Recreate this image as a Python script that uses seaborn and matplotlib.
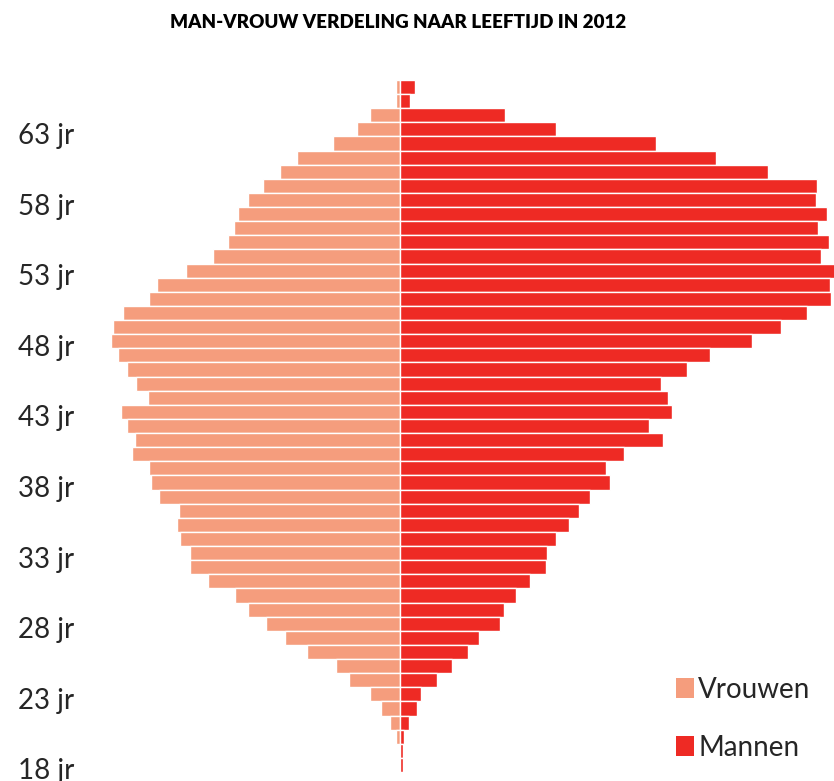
import matplotlib
matplotlib.use("Agg")
import matplotlib.pyplot as plt
import matplotlib.transforms as mtransforms
import seaborn as sns
import pandas as pd
from matplotlib.patches import Patch

# ---- data (relative lengths) ----
ages = list(range(18, 67))
vrouwen = [0, 0, 4, 10, 19, 30, 51, 64, 93, 115,
           134, 152, 165, 192, 210, 210, 220, 223, 221, 241,
           249, 251, 268, 265, 273, 279, 252, 264, 273, 282,
           289, 287, 277, 251, 243, 214, 187, 172, 166, 162,
           152, 137, 120, 103, 67, 43, 30, 4, 4]
mannen = [3, 3, 4, 9, 17, 21, 37, 52, 68, 79,
          100, 104, 116, 130, 146, 147, 156, 169, 179, 190,
          210, 206, 224, 263, 249, 272, 268, 261, 287, 310,
          352, 381, 407, 431, 430, 436, 421, 429, 418, 427,
          416, 417, 368, 316, 256, 156, 105, 10, 15]
tick_ages = [63, 58, 53, 48, 43, 38, 33, 28, 23, 18]
title = "MAN-VROUW VERDELING NAAR LEEFTIJD IN 2012"
series_names = ["Vrouwen", "Mannen"]
colors = {"Vrouwen": "#F59D7D", "Mannen": "#EE2A24"}

rows = []
for a, v, m in zip(ages, vrouwen, mannen):
    rows.append({"leeftijd": str(a), "waarde": -v, "geslacht": "Vrouwen"})
    rows.append({"leeftijd": str(a), "waarde": m, "geslacht": "Mannen"})
df = pd.DataFrame(rows)
order = [str(a) for a in sorted(ages, reverse=True)]

sns.set_style("white")
plt.rcParams["font.family"] = ["Lato", "DejaVu Sans"]

W, H = 834, 781
fig = plt.figure(figsize=(W / 100, H / 100), dpi=100)
ax = fig.add_axes([0, 1 - 772 / H, 1, (772 - 80) / H])

sns.barplot(data=df, x="waarde", y="leeftijd", hue="geslacht", order=order,
            hue_order=series_names, palette=colors, orient="h", dodge=False,
            width=1.0, edgecolor="white", linewidth=1.0, saturation=1,
            ax=ax, legend=False)

ax.set_xlim(-400, 434)
for s in ax.spines.values():
    s.set_visible(False)
ax.set_xticks([])
ax.set_xlabel("")
ax.set_ylabel("")

ax.set_yticks([order.index(str(a)) for a in tick_ages])
ax.set_yticklabels([f"{a} jr" for a in tick_ages])
ax.tick_params(axis="y", length=0, direction="in", pad=-13, labelsize=20)
shift = mtransforms.ScaledTranslation(0, -4 / 100, fig.dpi_scale_trans)
for lab in ax.get_yticklabels():
    lab.set_horizontalalignment("left")
    lab.set_transform(lab.get_transform() + shift)

handles = [Patch(facecolor=colors[n], edgecolor="none", label=n) for n in series_names]
fig.legend(handles=handles, loc="upper left", bbox_to_anchor=(676 / W, 1 - 677 / H),
           frameon=False, fontsize=20, handlelength=0.65, handleheight=0.75,
           handletextpad=0.15, labelspacing=1.15, borderpad=0, borderaxespad=0)

fig.text(398 / W, 1 - 22 / H, title, ha="center", va="center",
         fontsize=13.5, fontweight="heavy", color="black")

fig.savefig("out.png", dpi=100)
